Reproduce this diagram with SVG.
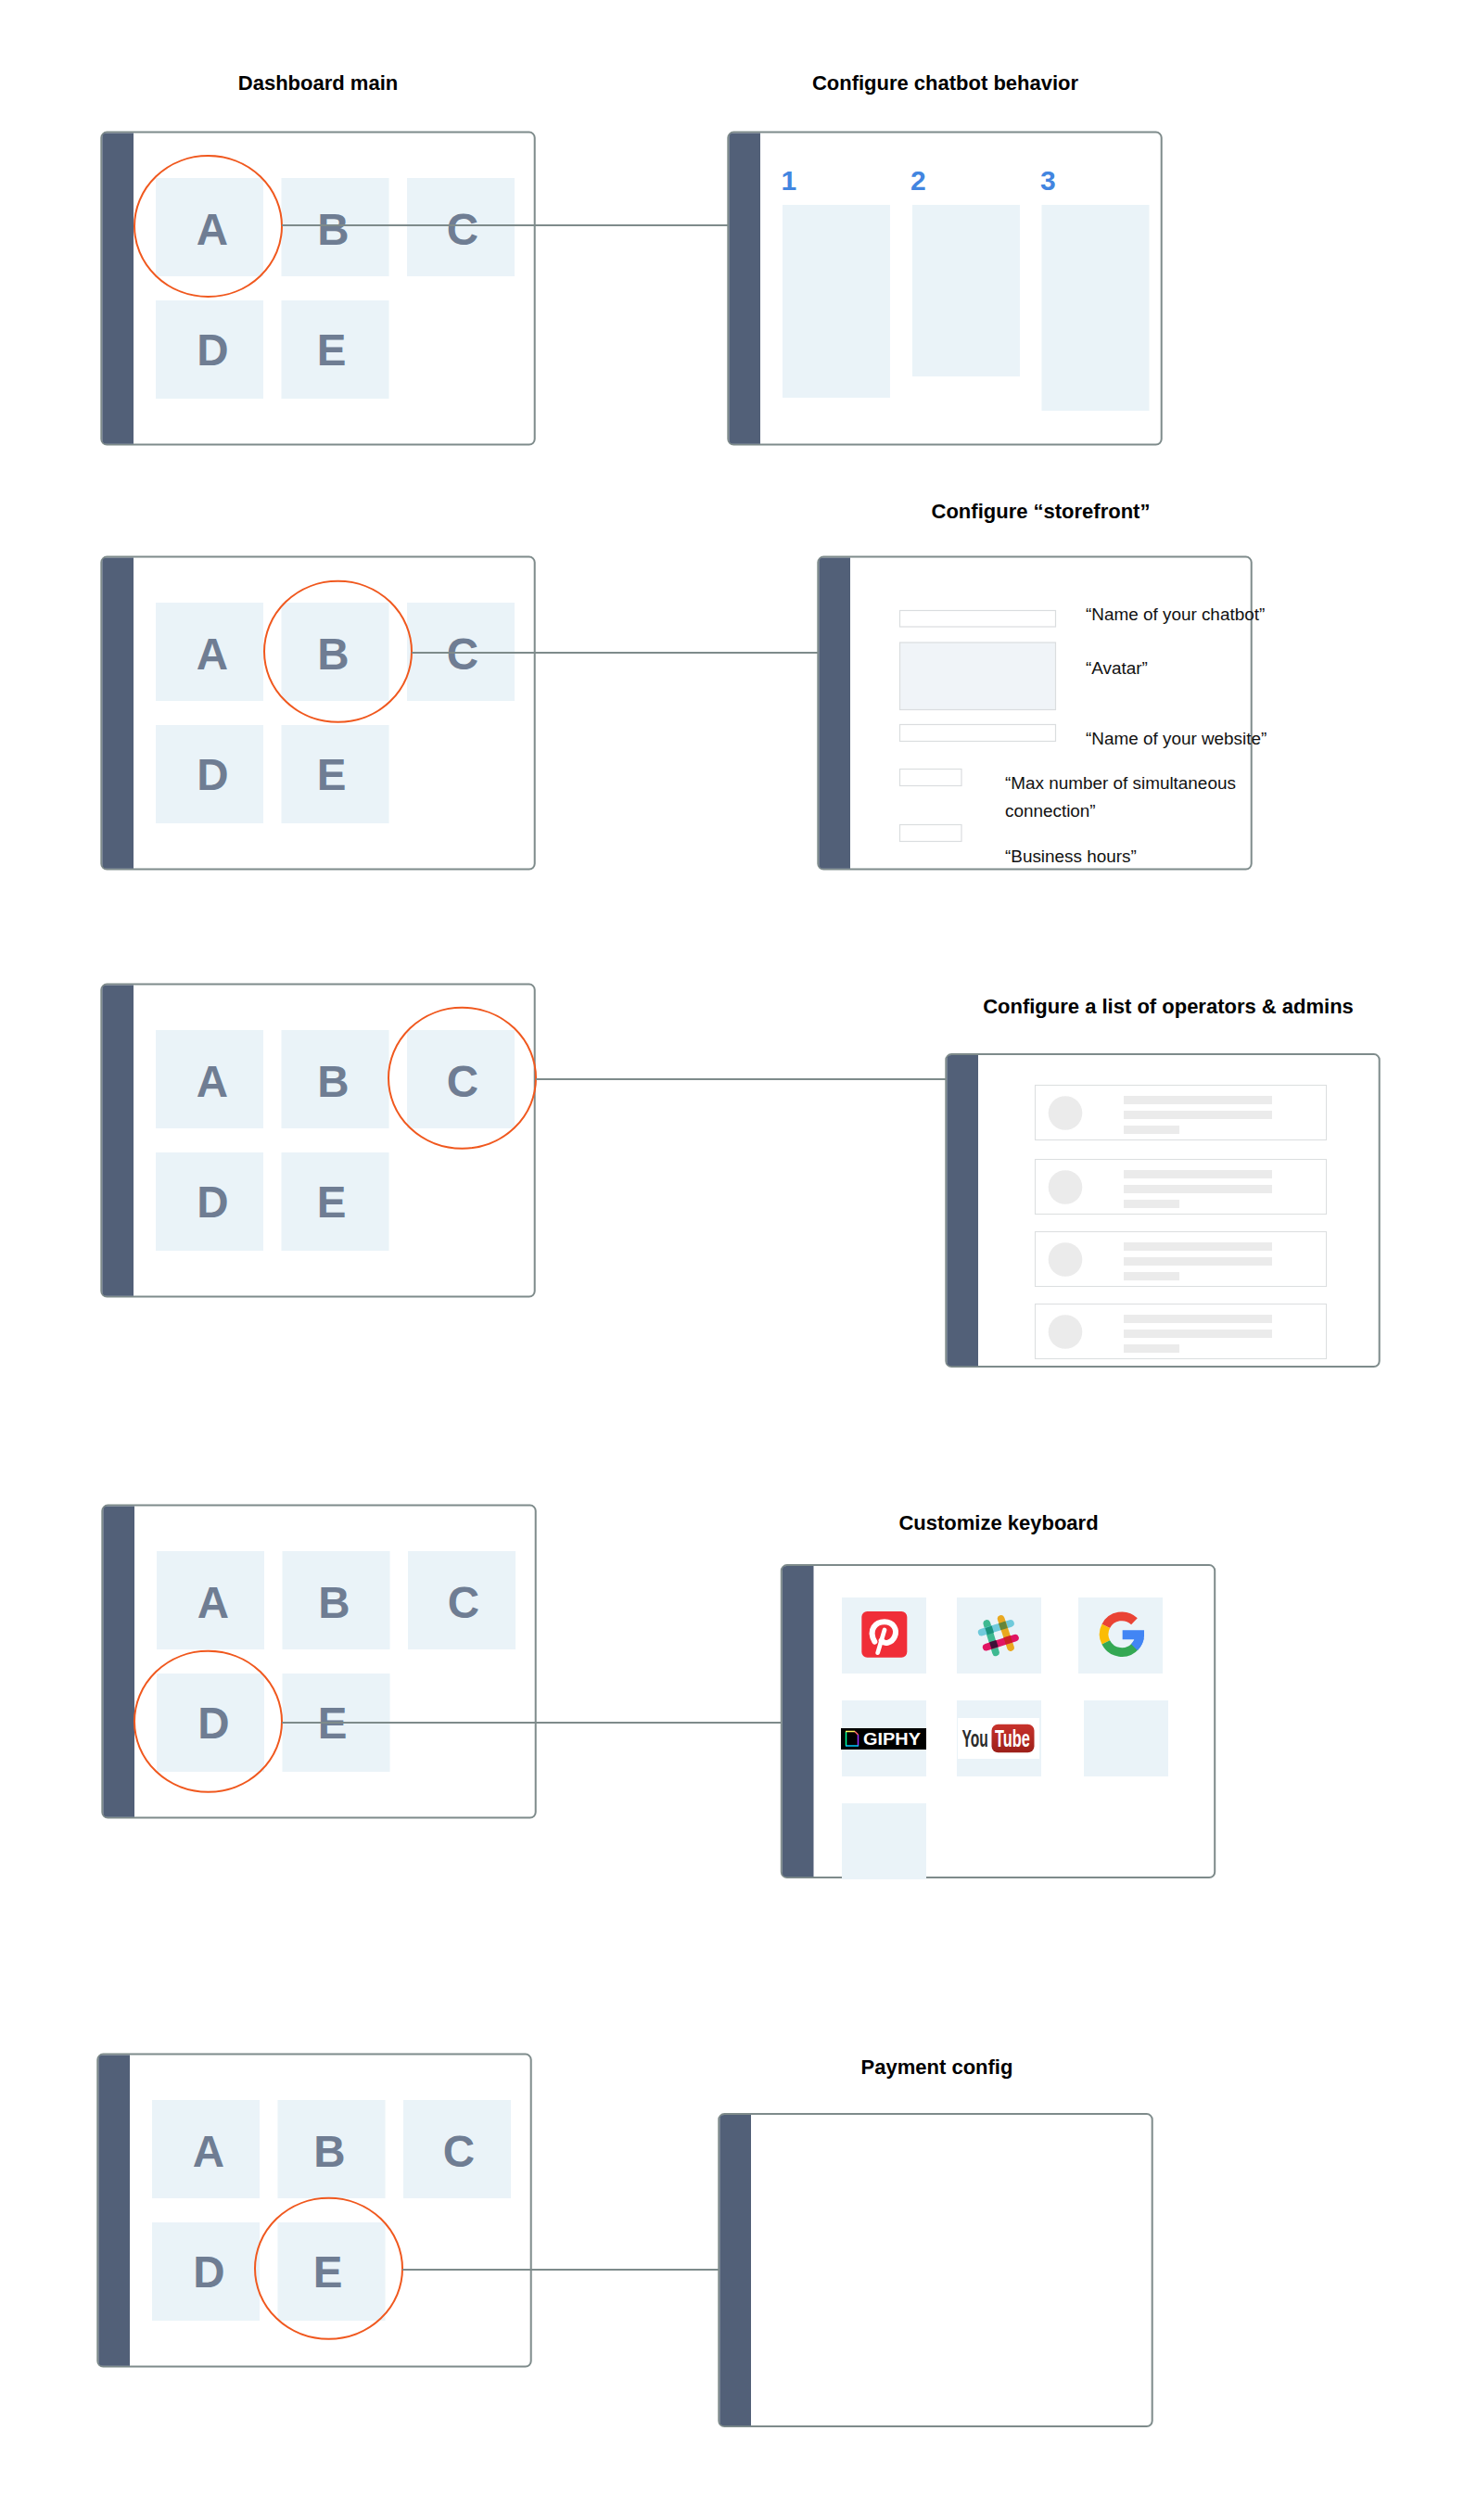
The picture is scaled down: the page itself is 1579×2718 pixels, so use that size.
<svg xmlns="http://www.w3.org/2000/svg" width="1579" height="2718" viewBox="0 0 1579 2718">
<style>
text{font-family:"Liberation Sans",Arial,sans-serif}
.t{font-size:22px;font-weight:700;fill:#000;text-anchor:middle}
.l{font-size:47.5px;font-weight:700;fill:#6f7d93;text-anchor:middle}
.n{font-size:30px;font-weight:700;fill:#4285e0}
.b{font-size:18.9px;fill:#111}
.tile{fill:#eaf3f8}
.inp{fill:#fff;stroke:#dadddf;stroke-width:1.2}
.row{fill:#fff;stroke:#dcdfe0;stroke-width:1.1}
.bar{fill:#ebebeb}
.c{fill:none;stroke:#f0581e;stroke-width:2}
.cn{fill:none;stroke:#7e8b8b;stroke-width:2}
</style>
<defs>
<g id="frame">
<rect x="109.3" y="142.6" width="467.4" height="337" rx="6" fill="#fff" stroke="#7e8b8b" stroke-width="2"/>
<path d="M144 143.4V478.800H115Q110.300 478.800 110.300 474V148Q110.300 143.400 115 143.400Z" fill="#526078"/>
</g>
<g id="grid">
<rect class="tile" x="168" y="192" width="116" height="106"/>
<rect class="tile" x="303.5" y="192" width="116" height="106"/>
<rect class="tile" x="439" y="192" width="116" height="106"/>
<rect class="tile" x="168" y="324" width="116" height="106"/>
<rect class="tile" x="303.5" y="324" width="116" height="106"/>
</g>
<linearGradient id="yt" x1="0" y1="0" x2="0" y2="1"><stop offset="0" stop-color="#c8322b"/><stop offset="1" stop-color="#9c1f19"/></linearGradient>
</defs>

<g id="title-dashboard"><text class="t" x="343" y="97">Dashboard main</text></g>
<g id="title-chatbot"><text class="t" x="1019.5" y="97">Configure chatbot behavior</text></g>
<g id="title-storefront"><text class="t" x="1122.5" y="559">Configure “storefront”</text></g>
<g id="title-operators"><text class="t" x="1260" y="1093">Configure a list of operators &amp; admins</text></g>
<g id="title-keyboard"><text class="t" x="1077" y="1650">Customize keyboard</text></g>
<g id="title-payment"><text class="t" x="1010.5" y="2237">Payment config</text></g>

<g id="dash-a">
<use href="#frame"/><use href="#grid"/>
<text class="l" x="229" y="264">A</text><text class="l" x="359.5" y="264">B</text><text class="l" x="499" y="264">C</text><text class="l" x="229.4" y="394">D</text><text class="l" x="357.6" y="394">E</text>
<ellipse class="c" cx="224.5" cy="244" rx="79.5" ry="76"/>
</g>
<g id="dash-b" transform="translate(0,458)">
<use href="#frame"/><use href="#grid"/>
<text class="l" x="229" y="264">A</text><text class="l" x="359.5" y="264">B</text><text class="l" x="499" y="264">C</text><text class="l" x="229.4" y="394">D</text><text class="l" x="357.6" y="394">E</text>
<ellipse class="c" cx="364.5" cy="244.8" rx="79.5" ry="76"/>
</g>
<g id="dash-c" transform="translate(0,919)">
<use href="#frame"/><use href="#grid"/>
<text class="l" x="229" y="264">A</text><text class="l" x="359.5" y="264">B</text><text class="l" x="499" y="264">C</text><text class="l" x="229.4" y="394">D</text><text class="l" x="357.6" y="394">E</text>
<ellipse class="c" cx="498.5" cy="243.8" rx="79.5" ry="76"/>
</g>
<g id="dash-d" transform="translate(1,1481)">
<use href="#frame"/><use href="#grid"/>
<text class="l" x="229" y="264">A</text><text class="l" x="359.5" y="264">B</text><text class="l" x="499" y="264">C</text><text class="l" x="229.4" y="394">D</text><text class="l" x="357.6" y="394">E</text>
<ellipse class="c" cx="223.5" cy="375.8" rx="79.5" ry="76"/>
</g>
<g id="dash-e" transform="translate(-4,2073)">
<use href="#frame"/><use href="#grid"/>
<text class="l" x="229" y="264">A</text><text class="l" x="359.5" y="264">B</text><text class="l" x="499" y="264">C</text><text class="l" x="229.4" y="394">D</text><text class="l" x="357.6" y="394">E</text>
<ellipse class="c" cx="358.5" cy="373.8" rx="79.5" ry="76"/>
</g>

<g id="screen-chatbot">
<use href="#frame" transform="translate(676,0)"/>
<rect class="tile" x="844" y="221" width="116" height="208"/>
<rect class="tile" x="984" y="221" width="116" height="185"/>
<rect class="tile" x="1123.5" y="221" width="116" height="222"/>
<text class="n" x="842.500" y="205">1</text><text class="n" x="982" y="205">2</text><text class="n" x="1122" y="205">3</text>
</g>

<g id="screen-storefront">
<use href="#frame" transform="translate(773,458)"/>
<rect class="inp" x="970.5" y="658.5" width="168" height="17.5"/>
<rect x="970.5" y="693" width="168" height="72.5" fill="#f0f4f8" stroke="#dadddf" stroke-width="1.2"/>
<rect class="inp" x="970.5" y="781.5" width="168" height="18"/>
<rect class="inp" x="970.5" y="829.5" width="66.5" height="18"/>
<rect class="inp" x="970.5" y="889.5" width="66.5" height="18"/>
<text class="b" x="1171" y="669">“Name of your chatbot”</text>
<text class="b" x="1171" y="727">“Avatar”</text>
<text class="b" x="1171" y="803">“Name of your website”</text>
<text class="b" x="1084" y="851">“Max number of simultaneous</text>
<text class="b" x="1084" y="881">connection”</text>
<text class="b" x="1084" y="930">“Business hours”</text>
</g>

<g id="screen-operators">
<use href="#frame" transform="translate(911,994.5)"/>
<rect class="row" x="1116.5" y="1170.5" width="314" height="59"/>
<circle class="bar" cx="1149" cy="1200.5" r="18.3"/>
<rect class="bar" x="1212" y="1182" width="160" height="9"/><rect class="bar" x="1212" y="1198" width="160" height="9"/><rect class="bar" x="1212" y="1214" width="60" height="9"/>
<rect class="row" x="1116.5" y="1250.5" width="314" height="59"/>
<circle class="bar" cx="1149" cy="1280.5" r="18.3"/>
<rect class="bar" x="1212" y="1262" width="160" height="9"/><rect class="bar" x="1212" y="1278" width="160" height="9"/><rect class="bar" x="1212" y="1294" width="60" height="9"/>
<rect class="row" x="1116.5" y="1328.5" width="314" height="59"/>
<circle class="bar" cx="1149" cy="1358.5" r="18.3"/>
<rect class="bar" x="1212" y="1340" width="160" height="9"/><rect class="bar" x="1212" y="1356" width="160" height="9"/><rect class="bar" x="1212" y="1372" width="60" height="9"/>
<rect class="row" x="1116.5" y="1406.5" width="314" height="59"/>
<circle class="bar" cx="1149" cy="1436.5" r="18.3"/>
<rect class="bar" x="1212" y="1418" width="160" height="9"/><rect class="bar" x="1212" y="1434" width="160" height="9"/><rect class="bar" x="1212" y="1450" width="60" height="9"/>
</g>

<g id="screen-keyboard">
<use href="#frame" transform="translate(733.5,1545.5)"/>
<rect class="tile" x="908" y="1723" width="91" height="82"/>
<rect class="tile" x="1032" y="1723" width="91" height="82"/>
<rect class="tile" x="1163" y="1723" width="91" height="82"/>
<rect class="tile" x="908" y="1834" width="91" height="82"/>
<rect class="tile" x="1032" y="1834" width="91" height="82"/>
<rect class="tile" x="1169" y="1834" width="91" height="82"/>
<rect class="tile" x="908" y="1945" width="91" height="82"/>
<g id="logo-pinterest" transform="translate(830,1670) scale(.33333)">
<rect x="298" y="204" width="147" height="149" rx="18" fill="#f02e38"/>
<path d="M340 302C318 262 344 238 372 238C402 238 414 264 405 285C396 306 372 312 362 298" fill="none" stroke="#fff" stroke-width="18" stroke-linecap="round"/>
<path d="M372 264L350 338" fill="none" stroke="#fff" stroke-width="14" stroke-linecap="round"/>
</g>
<g id="logo-slack" transform="translate(830,1670) scale(.33333)" fill="none" stroke-width="23" stroke-linecap="round">
<path d="M703 243L732 337" stroke="#3eb991"/>
<path d="M686 272L780 243" stroke="#70cadb"/>
<path d="M749 228L780 321" stroke="#e9a820"/>
<path d="M701 320L795 290" stroke="#e01563"/>
<g stroke="none"><rect x="700" y="254" width="23" height="23" transform="rotate(-18 711 265)" fill="#1a937d"/>
<rect x="744" y="239" width="23" height="23" transform="rotate(-18 755 250)" fill="#65863a"/>
<rect x="760" y="285" width="23" height="23" transform="rotate(-18 771 296)" fill="#cc2027"/>
<rect x="714" y="300" width="23" height="23" transform="rotate(-18 725 311)" fill="#3e1138"/></g>
</g>
<g id="logo-google" transform="translate(830,1670) scale(.33333)" fill="none" stroke-width="29">
<path d="M1180.300 236.300A58 58 0 0 0 1088.300 251.700" stroke="#ea4335"/>
<path d="M1088.300 251.700A58 58 0 0 0 1088.300 304.300" stroke="#fbbc05"/>
<path d="M1088.300 304.300A58 58 0 0 0 1183 317" stroke="#34a853"/>
<path d="M1183 317A58 58 0 0 0 1197 288" stroke="#4285f4"/>
<path d="M1142 265H1212V285Q1210 312 1190 330L1170 310Q1178 302 1181 295H1142Z" fill="#4285f4" stroke="none"/>
</g>
<g id="logo-giphy">
<rect x="907" y="1864" width="92" height="23" fill="#000"/>
<path d="M912.500 1868V1883" fill="none" stroke="#00ff99" stroke-width="1.500"/>
<path d="M912 1867.500H922" fill="none" stroke="#fff35c" stroke-width="1.500"/>
<path d="M922 1867.500L925.500 1871" fill="none" stroke="#ff6666" stroke-width="1.500"/>
<path d="M925.500 1871V1883" fill="none" stroke="#9933ff" stroke-width="1.500"/>
<path d="M912 1883H926" fill="none" stroke="#00ccff" stroke-width="1.500"/>
<text x="931" y="1882" font-size="18.500" font-weight="700" fill="#fff" textLength="62" lengthAdjust="spacingAndGlyphs">GIPHY</text>
</g>
<g id="logo-youtube">
<rect x="1033" y="1853" width="88" height="44" fill="#fff"/>
<text transform="translate(1037.500,1884) scale(.6,1)" font-size="26" font-weight="700" fill="#2b2b2b">You</text>
<rect x="1069.500" y="1859.700" width="46" height="30.600" rx="7" fill="url(#yt)"/>
<text transform="translate(1073,1884) scale(.63,1)" font-size="26" font-weight="700" fill="#fff">Tube</text>
</g>
</g>

<g id="screen-payment">
<use href="#frame" transform="translate(666,2137.500)"/>
</g>

<g id="connectors">
<path class="cn" d="M304 243H785"/>
<path class="cn" d="M444 704H882"/>
<path class="cn" d="M578 1164H1020"/>
<path class="cn" d="M304 1858H843"/>
<path class="cn" d="M434 2448H775"/>
</g>
</svg>
